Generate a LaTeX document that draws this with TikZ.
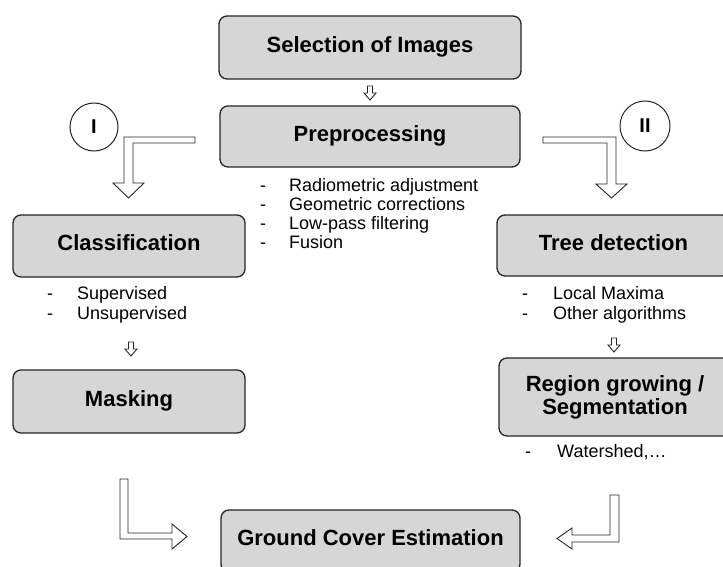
\documentclass[tikz,border=0pt]{standalone}
\usepackage{fontspec}
\setmainfont{Liberation Sans}
\begin{document}
\begin{tikzpicture}[x=1pt,y=-1pt,
  box/.style={draw=black!85, line width=1.3pt, fill=gray!32, rounded corners=8pt, inner sep=0pt,
    font=\fontsize{22}{23}\selectfont\bfseries},
  onel/.style={text height=16.5pt, text depth=6.6pt},
  bul/.style={anchor=base west, inner sep=0pt, font=\fontsize{18}{19}\selectfont},
  hollow/.style={draw=black!85, line width=0.9pt, fill=white, line join=miter},
  roman/.style={draw=black!85, line width=1pt, circle, inner sep=0pt, fill=white,
    font=\fontsize{20}{20}\selectfont\bfseries},
  smallarr/.pic={\draw[hollow] (-2.5,0) -- (2.5,0) -- (2.5,7) -- (6,7) -- (0,14) -- (-6,7) -- (-2.5,7) -- cycle;}
]
\useasboundingbox (0,0) rectangle (723,567);
\fill[white] (0,0) rectangle (723,567);

% boxes
\node[box,onel,minimum width=302pt,minimum height=63pt] (sel) at (370,47.5) {Selection of Images};
\node[box,onel,minimum width=300pt,minimum height=61pt] (pre) at (370,136.5) {Preprocessing};
\node[box,onel,minimum width=232pt,minimum height=62pt] (cls) at (129,246) {Classification};
\node[box,onel,minimum width=232pt,minimum height=63pt] (msk) at (129,401.5) {Masking};
\node[box,onel,minimum width=233pt,minimum height=61pt] (tree) at (613.5,245.5) {Tree detection};
\node[box,align=center,minimum width=232pt,minimum height=78pt] (reg) at (615,397) {Region growing /\\Segmentation};
\node[box,onel,minimum width=299pt,minimum height=62pt] (gce) at (370.5,541) {Ground Cover Estimation};

% circles
\node[roman,minimum size=48pt] (c1) at (94,127) {I};
\node[roman,minimum size=50pt] (c2) at (645,126) {II};

% bullet lists
\node[bul] (p1) at (260,191) {\makebox[29pt][l]{-}Radiometric adjustment};
\node[bul] (p2) at (260,210) {\makebox[29pt][l]{-}Geometric corrections};
\node[bul] (p3) at (260,229) {\makebox[29pt][l]{-}Low-pass filtering};
\node[bul] (p4) at (260,248) {\makebox[29pt][l]{-}Fusion};
\node[bul] (l1) at (47,299) {\makebox[30pt][l]{-}Supervised};
\node[bul] (l2) at (47,319) {\makebox[30pt][l]{-}Unsupervised};
\node[bul] (r1) at (522,299) {\makebox[31pt][l]{-}Local Maxima};
\node[bul] (r2) at (522,319) {\makebox[31pt][l]{-}Other algorithms};
\node[bul] (w1) at (525,457) {\makebox[32pt][l]{-}Watershed,\dots};

% small arrows
\pic (a1) at (370,86) {smallarr};
\pic (a2) at (131,342) {smallarr};
\pic (a3) at (614,338) {smallarr};

% L-shaped hollow arrows
\draw[hollow] (195,137) -- (124,137) -- (124,183) -- (113,183) -- (128.5,198) -- (144,183)
  -- (133,183) -- (133,143) -- (195,143) -- cycle;
\draw[hollow] (543,137) -- (616,137) -- (616,184) -- (627,184) -- (611.5,198) -- (596,184)
  -- (607,184) -- (607,143) -- (543,143) -- cycle;
\draw[hollow] (120,479) -- (128,479) -- (128,533) -- (172,533) -- (172,524) -- (187,536.5)
  -- (172,549) -- (172,539) -- (120,539) -- cycle;
\draw[hollow] (619,495) -- (610,495) -- (610,535) -- (572,535) -- (572,528) -- (557,538.5)
  -- (572,549) -- (572,542) -- (619,542) -- cycle;
\end{tikzpicture}
\end{document}
